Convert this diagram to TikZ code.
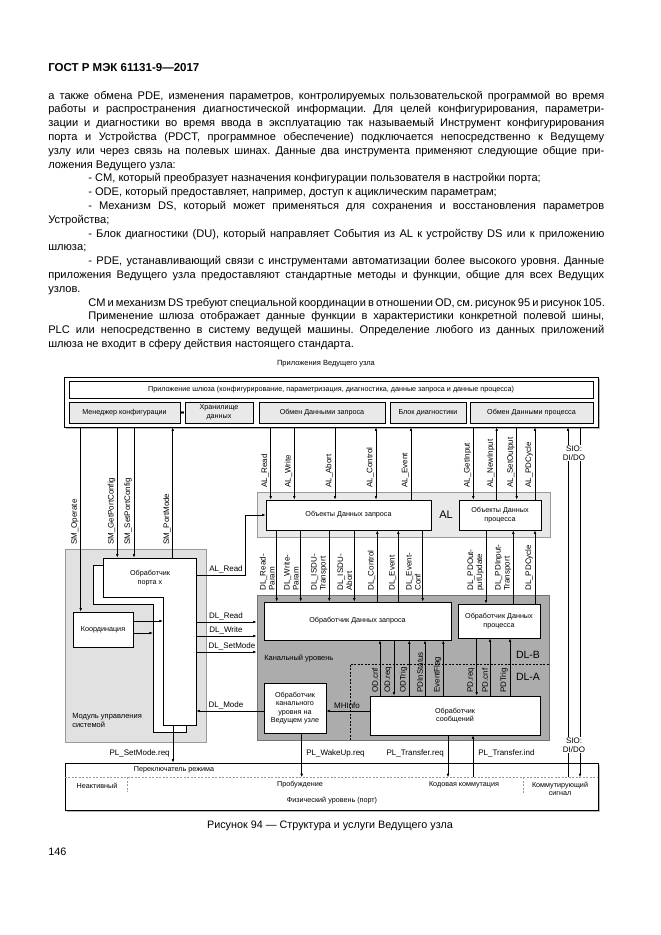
\documentclass[tikz,border=0pt]{standalone}
\usepackage{fontspec}
\setmainfont{Liberation Sans}
\usetikzlibrary{arrows.meta, positioning, calc, shadows}
\definecolor{lgray}{RGB}{233,233,233}
\definecolor{mgray}{RGB}{225,225,225}
\definecolor{dgray}{RGB}{172,172,172}

\begin{document}
\begin{tikzpicture}[
    x=1pt, y=-1pt,
    >={Latex[length=3.6pt,width=2.6pt]},
    line width=0.6pt,
    blk/.style={draw, fill=white, align=center, inner sep=1pt, font=\fontsize{7.2}{8.6}\selectfont},
    area/.style={draw=gray!80, inner sep=0pt},
    arrlab/.style={font=\fontsize{8}{9}\selectfont, inner sep=1pt},
    vlab/.style={arrlab, rotate=90, anchor=south west, align=left},
    small/.style={font=\fontsize{7.2}{8.6}\selectfont, inner sep=1pt, align=center},
    sh/.style={drop shadow={opacity=1, fill=gray!55, shadow xshift=1.5pt, shadow yshift=-1.5pt}},
    page/.style={font=\fontsize{11.1}{13.8}\selectfont, inner sep=0pt},
]
    \fill[white] (0,0) rectangle (661,935);
    \useasboundingbox (0,0) rectangle (661,935);

    % Page text
    \node[page, anchor=base west, font=\bfseries\fontsize{11.5}{13}\selectfont] (hdr) at (48,71) {ГОСТ Р МЭК 61131-9—2017};
    \node[page, anchor=north west, text width=556pt, align=justify] (body) at (48,90.5) {%
        \frenchspacing\setlength{\parindent}{40pt}\setlength{\parskip}{0pt}%
        \noindent а также обмена PDE, изменения параметров, контролируемых пользовательской программой во время\linebreak
        работы и распространения диагностической информации. Для целей конфигурирования, параметри-\linebreak
        зации и диагностики во время ввода в эксплуатацию так называемый Инструмент конфигурирования\linebreak
        порта и Устройства (PDCT, программное обеспечение) подключается непосредственно к Ведущему\linebreak
        узлу или через связь на полевых шинах. Данные два инструмента применяют следующие общие при-\linebreak
        ложения Ведущего узла:\par
        - CM, который преобразует назначения конфигурации пользователя в настройки порта;\par
        - ODE, который предоставляет, например, доступ к ациклическим параметрам;\par
        - Механизм DS, который может применяться для сохранения и восстановления параметров\linebreak
        Устройства;\par
        - Блок диагностики (DU), который направляет События из AL к устройству DS или к приложению\linebreak
        шлюза;\par
        - PDE, устанавливающий связи с инструментами автоматизации более высокого уровня. Данные\linebreak
        приложения Ведущего узла предоставляют стандартные методы и функции, общие для всех Ведущих\linebreak
        узлов.\par
        \noindent\hspace*{40pt}\hbox to 516pt{CM и механизм DS требуют специальной координации в отношении OD, см. рисунок 95 и рисунок 105.}\par
        Применение шлюза отображает данные функции в характеристики конкретной полевой шины,\linebreak
        PLC или непосредственно в систему ведущей машины. Определение любого из данных приложений\linebreak
        шлюза не входит в сферу действия настоящего стандарта.};

    % Master applications
    \node[small, font=\fontsize{7.5}{9}\selectfont] (apptitle) at (326,364) {Приложения Ведущего узла};
    \node[blk, sh, minimum width=534, minimum height=50] (master) at (331,402) {};
    \node[blk, minimum width=524, minimum height=17] (gateway) at (331,389.5) {Приложение шлюза (конфигурирование, параметризация, диагностика, данные запроса и данные процесса)};
    \node[blk, fill=lgray, minimum width=111, minimum height=21] (cfgmgr) at (124.5,412.5) {Менеджер конфигурации};
    \node[blk, fill=lgray, minimum width=68, minimum height=21] (dstore) at (219,412.5) {Хранилище\\данных};
    \node[blk, fill=lgray, minimum width=126, minimum height=21] (odex) at (322,412.5) {Обмен Данными запроса};
    \node[blk, fill=lgray, minimum width=76, minimum height=21] (diag) at (428,412.5) {Блок диагностики};
    \node[blk, fill=lgray, minimum width=123, minimum height=21] (pdex) at (531.5,412.5) {Обмен Данными процесса};
    \draw[<->] (cfgmgr.east) -- (dstore.west);

    % Application layer
    \node[area, fill=lgray, minimum width=293, minimum height=45] (al) at (403.5,514.5) {};
    \node[font=\fontsize{11}{13}\selectfont] (altag) at (446,515) {AL};
    \node[blk, minimum width=165, minimum height=30] (reqobj) at (348.5,515) {Объекты Данных запроса};
    \node[blk, minimum width=82, minimum height=30] (procobj) at (500,515) {Объекты Данных\\процесса};

    \foreach \x/\t/\d [count=\i] in {270.7/AL\_Read/->, 294.3/AL\_Write/->, 335/AL\_Abort/->, 376/AL\_Control/<->, 411/AL\_Event/<-}{
        \draw[\d] (\x,0 |- master.south) -- (\x,0 |- reqobj.north);
        \node[vlab] (alod\i) at (\x-0.8,489) {\t};
    }
    \foreach \x/\t/\d [count=\i] in {473.3/AL\_GetInput/->, 496.7/AL\_NewInput/<-, 516.7/AL\_SetOutput/->, 535/AL\_PDCycle/<-}{
        \draw[\d] (\x,0 |- master.south) -- (\x,0 |- procobj.north);
        \node[vlab] (alpd\i) at (\x-0.8,489) {\t};
    }

    % System management
    \node[area, fill=mgray, minimum width=141, minimum height=193] (sm) at (135.5,645.5) {};
    \node[small, anchor=west, align=left, font=\fontsize{7.5}{9}\selectfont] (smtag) at (71,720) {Модуль управления\\системой};
    \draw[fill=white] (93,565) -- (186,565) -- (186,732) -- (153,732) -- (153,604) -- (93,604) -- cycle;
    \draw[fill=white] (103,558) -- (196,558) -- (196,725) -- (163,725) -- (163,597) -- (103,597) -- cycle;
    \node[inner sep=0pt, minimum width=93, minimum height=167] (port) at (149.5,641.5) {};
    \node[small] (porttxt) at (150,578) {Обработчик\\порта x};
    \node[blk, minimum width=60, minimum height=35] (coord) at (103,629.5) {Координация};
    \coordinate (legF) at (163,621);
    \coordinate (legB) at (153,633);
    \draw[->] (coord.east |- legF) -- (legF);
    \draw[->] (coord.east |- legB) -- (legB);

    \draw[->] (80.7,0 |- master.south) -- (80.7,0 |- coord.north);
    \node[vlab] (smop) at (79.9,546) {SM\_Operate};
    \foreach \x/\t/\d [count=\i] in {117.3/SM\_GetPortConfig/->, 134/SM\_SetPortConfig/->, 172.7/SM\_PortMode/<-}{
        \draw[\d] (\x,0 |- master.south) -- (\x,0 |- port.north);
        \node[vlab] (smsv\i) at (\x-0.8,546) {\t};
    }

    % Data link layer
    \node[area, draw=gray!90!black, fill=dgray, minimum width=292, minimum height=145] (dll) at (403,667.5) {};
    \node[small, anchor=west, font=\fontsize{7.5}{9}\selectfont] (dlltag) at (263,658) {Канальный уровень};
    \node[blk, minimum width=187, minimum height=38] (reqhdl) at (357.5,621) {Обработчик Данных запроса};
    \node[blk, minimum width=82, minimum height=34] (prochdl) at (499,621) {Обработчик Данных\\процесса};
    \draw[dashed, dash pattern=on 2pt off 1.5pt] (350,0 |- dll.south) -- (350,664) -- (dll.east |- 0,664);
    \node[font=\fontsize{10.5}{12}\selectfont] (dlb) at (528,655) {DL-B};
    \node[font=\fontsize{10.5}{12}\selectfont] (dla) at (528,677) {DL-A};
    \node[blk, minimum width=62, minimum height=50] (dlmh) at (295,708) {Обработчик\\канального\\уровня на\\Ведущем узле};
    \node[blk, minimum width=170, minimum height=39] (msghdl) at (455,715.5) {Обработчик\\сообщений};
    \draw[->] (msghdl.west |- 0,711) -- (dlmh.east |- 0,711);
    \node[arrlab, anchor=south] (mhinfo) at (347,710) {MHInfo};

    \foreach \x/\t/\d [count=\i] in {276.7/DL\_Read-\\Param/->, 300.7/DL\_Write-\\Param/->, 329.3/DL\_ISDU-\\Transport/->, 354.3/DL\_ISDU-\\Abort/->, 377.3/DL\_Control/<-, 398.3/DL\_Event/<-, 422.7/DL\_Event-\\Conf/->}{
        \draw[\d] (\x,0 |- reqobj.south) -- (\x,0 |- reqhdl.north);
        \node[vlab] (dlod\i) at (\x-0.8,592) {\t};
    }
    \foreach \x/\t/\d [count=\i] in {486/DL\_PDOut-\\putUpdate/->, 513.3/DL\_PDInput-\\Transport/<-, 535/DL\_PDCycle/<-}{
        \draw[\d] (\x,0 |- procobj.south) -- (\x,0 |- prochdl.north);
        \node[vlab] (dlpd\i) at (\x-0.8,592) {\t};
    }
    \foreach \x/\t/\d [count=\i] in {380/OD.cnf/<-, 394/OD.req/->, 409.3/ODTrig/<-, 425/PDInStatus/<-, 443.3/EventFlag/<-}{
        \draw[\d] (\x,0 |- reqhdl.south) -- (\x,0 |- msghdl.north);
        \node[vlab] (odmh\i) at (\x-0.8,694) {\t};
    }
    \foreach \x/\t/\d [count=\i] in {476.7/PD.req/->, 490/PD.cnf/<-, 510/PDTrig/<-}{
        \draw[\d] (\x,0 |- prochdl.south) -- (\x,0 |- msghdl.north);
        \node[vlab] (pdmh\i) at (\x-0.8,694) {\t};
    }

    % Port handler to AL and DL
    \draw[->] (port.east |- 0,575) -- ++(49,0) |- (reqobj.west);
    \node[arrlab, anchor=south] (alread) at (226,574) {AL\_Read};
    \draw[->] (port.east |- 0,622) -- (dll.west |- 0,622);
    \node[arrlab, anchor=south] (dlread) at (226,621) {DL\_Read};
    \draw[->] (port.east |- 0,636) -- (dll.west |- 0,636);
    \node[arrlab, anchor=south] (dlwrite) at (226,635) {DL\_Write};
    \draw[->] (port.east |- 0,652) -- (dll.west |- 0,652);
    \node[arrlab, anchor=south] (dlsetmode) at (232,651) {DL\_SetMode};
    \draw[->] (dlmh.west |- 0,711) -- (port.east |- 0,711);
    \node[arrlab, anchor=south] (dlmode) at (226,710) {DL\_Mode};

    % Physical layer
    \node[blk, sh, minimum width=533, minimum height=47] (phys) at (331.5,786.5) {};
    \node[inner sep=0pt, minimum width=533, minimum height=14] (modesw) at (331.5,770) {};
    \draw[gray!80, dashed, dash pattern=on 2pt off 1.5pt] (modesw.south west) -- (modesw.south east);
    \draw[gray!80, dashed, dash pattern=on 2pt off 1.5pt] (127,0 |- modesw.south) -- (127,792);
    \draw[gray!80, dashed, dash pattern=on 2pt off 1.5pt] (523,0 |- modesw.south) -- (523,794);
    \node[small] (modetxt) at (174,770) {Переключатель режима};
    \node[small] (inact) at (97,786) {Неактивный};
    \node[small] (wake) at (300,785) {Пробуждение};
    \node[small] (coded) at (464,785) {Кодовая коммутация};
    \node[small] (swsig) at (560,789) {Коммутирующий\\сигнал};
    \node[small] (phystxt) at (332,801) {Физический уровень (порт)};

    \draw[->] (173,0 |- port.south) -- (173,0 |- phys.north);
    \node[arrlab, anchor=east] (plsm) at (171,753) {PL\_SetMode.req};
    \draw[->] (301.7,0 |- dlmh.south) -- (301.7,0 |- modesw.south);
    \node[arrlab, anchor=west] (plwu) at (305,753) {PL\_WakeUp.req};
    \draw[->] (448,0 |- msghdl.south) -- (448,0 |- modesw.south);
    \node[arrlab, anchor=east] (pltr) at (445,753) {PL\_Transfer.req};
    \draw[->] (473,0 |- modesw.south) -- (473,0 |- msghdl.south);
    \node[arrlab, anchor=west] (plti) at (477,753) {PL\_Transfer.ind};

    % SIO
    \draw[->] (568,0 |- modesw.south) -- (568,0 |- master.south);
    \draw[->] (580,0 |- master.south) -- (580,0 |- modesw.south);
    \node[arrlab, fill=white, align=center, inner sep=0.5pt] (siotop) at (574,453) {SIO:\\DI/DO};
    \node[arrlab, fill=white, align=center, inner sep=0.5pt] (siobot) at (574,745) {SIO:\\DI/DO};

    % Caption
    \node[page, font=\fontsize{10.8}{13}\selectfont] (cap) at (330,826) {Рисунок 94 — Структура и услуги Ведущего узла};
    \node[page, anchor=base west, font=\fontsize{10.8}{13}\selectfont] (pgno) at (48,855) {146};
\end{tikzpicture}
\end{document}
